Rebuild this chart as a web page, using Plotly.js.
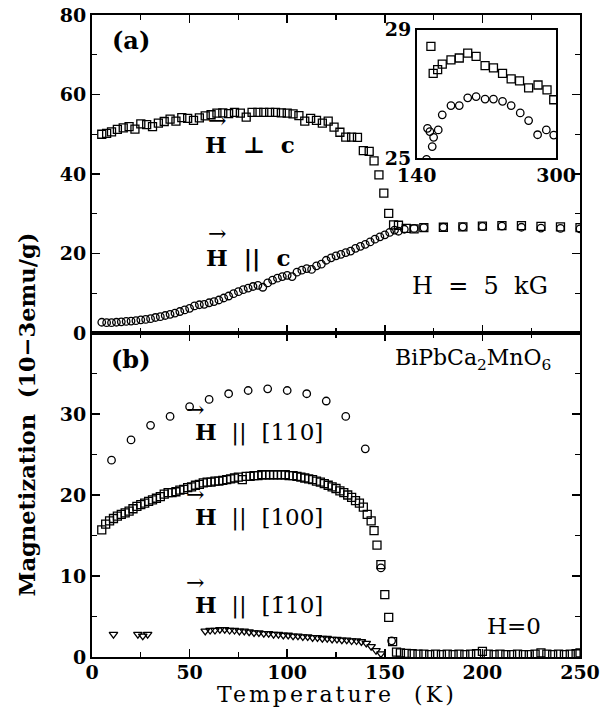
<!DOCTYPE html>
<html>
<head>
<meta charset="utf-8">
<script src="https://cdn.plot.ly/plotly-3.0.1.min.js"></script>
<style>
  html, body { margin: 0; padding: 0; background: #fff; }
  #chart { width: 607px; height: 709px; }
  g.annotation[data-index="15"] text { letter-spacing: 3px; }
</style>
</head>
<body>
<div id="chart"></div>
<script>
// ---------- Panel (a): H = 5 kG ----------
const perpT = [5,7.5,10,13,16,19,22,25,28,31,34,37,40,43,46,49,52,55,58,61,64,67,70,73,76,79,82,85,88,91,94,97,100,103,106,109,112,115,118,121,124,127,130,133,136,139,142,144.5,147,149.5,152,154.5,157,161,165,170,180,190,200,210,220,230,240,250];
const perpM = [50.0,50.2,50.6,51.2,51.6,51.9,51.3,52.6,52.4,51.9,52.8,53.2,53.8,53.3,54.2,54.0,53.5,54.1,54.6,54.9,55.3,55.4,55.2,55.5,55.3,54.3,55.5,55.5,55.5,55.5,55.5,55.4,55.3,55.1,54.7,53.3,54.0,53.5,52.8,53.3,51.8,50.5,49.3,49.3,49.2,45.9,45.7,43.3,39.8,35.2,30.1,27.2,27.1,26.3,26.2,26.5,26.6,26.7,26.9,27.0,27.0,26.8,26.7,26.5];

const parT = [5,7.5,10,12.5,15,17.5,20,22.5,25,27.5,30,32.5,35,37.5,40,42.5,45,47.5,50,52.5,55,57.5,60,62.5,65,67.5,70,72.5,75,77.5,80,82.5,85,87.5,90,92.5,95,97.5,100,102.5,105,107.5,110,112.5,115,117.5,120,122.5,125,127.5,130,132.5,135,137.5,140,142.5,145,147.5,150,152.5,155,157,160,165,170,180,190,200,210,220,230,240,250];
const parM = [2.7,2.6,2.6,2.7,2.8,2.9,3.0,3.1,3.3,3.4,3.6,3.9,4.1,4.4,4.7,5.0,5.4,5.8,6.2,6.8,7.1,7.2,7.6,7.9,8.3,8.8,9.3,9.9,10.4,10.9,11.3,11.7,12.0,11.5,12.6,13.3,13.8,14.2,14.5,14.2,15.3,15.8,16.2,16.0,16.9,17.3,18.3,18.9,19.4,19.8,20.2,20.6,21.3,21.8,22.3,22.9,23.6,24.2,24.7,25.3,25.9,25.6,26.1,26.3,26.5,26.6,26.7,26.8,26.9,26.6,26.4,26.3,26.2];

// ---------- Inset (140-300 K) ----------
const inSqT = [156.5,159.1,164.2,169.5,179.5,189,198.7,208.3,218.6,228.2,238.6,248.5,258.1,268.5,279.3,289.6,297.3];
const inSqM = [28.48,27.64,27.76,27.93,28.06,28.12,28.27,28.17,27.88,27.81,27.64,27.47,27.41,27.19,27.28,27.13,26.82];
const inCiT = [151.5,152.6,155.3,158,159.6,164.9,169.5,179.5,189,198.7,208.3,218.6,228.2,238.6,248.5,258.9,268.5,278.8,288.8,297.3];
const inCiM = [24.96,25.93,25.83,25.36,25.65,25.88,26.35,26.64,26.64,26.88,26.92,26.84,26.84,26.77,26.64,26.41,26.17,25.73,25.88,25.72];

// ---------- Panel (b): H = 0 ----------
const b110T = [10,20,30,40,50,60,70,80,90,100,110,120,130,140,148,153.5];
const b110M = [24.3,26.8,28.6,29.7,30.9,31.8,32.5,32.9,33.1,32.9,32.5,31.6,29.7,25.7,11.0,2.0];

const b100T = [5,7,9,11,13,15,17,19,21,23,25,27,29,31,33,35,37,39,41,43,45,47,49,51,53,55,57,59,61,63,65,67,69,71,73,75,77,79,81,83,85,87,89,91,93,95,97,99,101,103,105,107,109,111,113,115,117,119,121,123,125,127,129,131,133,135,137,139,141,143,144.5,146,148,150,152,154,156,158,161,164,167,170,173,176,179,182,185,188,191,194,197,200,203,206,209,212,215,218,221,224,227,230,233,236,239,242,245,248,250];
const b100M = [15.7,16.4,16.8,17.1,17.4,17.6,17.8,18.0,18.3,18.6,18.8,19.0,19.2,19.4,19.6,19.8,20.1,20.3,20.3,20.4,20.6,20.7,20.9,21.0,21.2,21.3,21.5,21.6,21.6,21.7,21.7,21.8,21.9,22.0,22.1,22.2,21.9,22.3,22.3,22.4,22.4,22.5,22.5,22.5,22.5,22.5,22.5,22.5,22.4,22.4,22.3,22.2,22.1,22.0,21.9,21.7,21.6,21.4,21.2,21.0,20.8,20.5,20.3,20.0,19.7,19.3,19.0,18.5,17.6,16.8,15.6,13.8,11.4,7.7,4.9,1.9,0.6,0.5,0.45,0.4,0.35,0.35,0.3,0.35,0.3,0.35,0.3,0.35,0.3,0.35,0.4,0.7,0.35,0.3,0.35,0.3,0.3,0.35,0.3,0.3,0.35,0.5,0.35,0.3,0.35,0.3,0.35,0.4,0.5];

const bm110T = [11,23.5,26,28.5,58,60.5,63,65.5,68,70.5,73,75.5,78,80.5,83,85.5,88,90.5,93,95.5,98,100.5,103,105.5,108,110.5,113,115.5,118,120.5,123,125.5,128,130.5,133,135.5,138,140.5,143,145.5,148];
const bm110M = [2.8,2.8,2.6,2.8,3.2,3.3,3.3,3.4,3.4,3.3,3.3,3.2,3.2,3.1,3.0,3.0,2.9,2.9,2.8,2.8,2.7,2.7,2.6,2.6,2.5,2.5,2.4,2.4,2.3,2.3,2.2,2.2,2.1,2.1,2.0,2.0,1.9,1.7,1.3,0.8,0.4];

const xTickVals = [0,50,100,150,200,250];
const xTickText = ['0','50','100','150','200','250'];
const yaTickVals = [0,20,40,60,80];
const ybTickVals = [0,10,20,30];

const SERIF = 'DejaVu Serif, Liberation Serif, serif';
const mk = (sym, size) => ({symbol: sym, size: size, color: '#000', line: {color: '#000', width: 1.3}});

const traces = [
  {x: perpT, y: perpM, xaxis: 'x2', yaxis: 'y2', mode: 'markers', marker: mk('square-open', 8), name: 'H perp c'},
  {x: parT, y: parM, xaxis: 'x2', yaxis: 'y2', mode: 'markers', marker: mk('circle-open', 7.5), name: 'H par c'},
  {x: inSqT, y: inSqM, xaxis: 'x3', yaxis: 'y3', mode: 'markers', marker: mk('square-open', 8), name: 'inset sq'},
  {x: inCiT, y: inCiM, xaxis: 'x3', yaxis: 'y3', mode: 'markers', marker: mk('circle-open', 7.5), name: 'inset ci'},
  {x: b110T, y: b110M, xaxis: 'x', yaxis: 'y', mode: 'markers', marker: mk('circle-open', 7.5), name: '[110]'},
  {x: b100T, y: b100M, xaxis: 'x', yaxis: 'y', mode: 'markers', marker: mk('square-open', 8), name: '[100]'},
  {x: bm110T, y: bm110M, xaxis: 'x', yaxis: 'y', mode: 'markers', marker: mk('triangle-down-open', 7.5), name: '[-110]'}
];

const tickFont = {family: SERIF, size: 19, color: '#000', weight: 'bold'};
const axBase = {
  showline: true, linecolor: '#000', linewidth: 2, mirror: 'allticks',
  ticks: 'inside', ticklen: 8, tickwidth: 1.5, tickcolor: '#000',
  showgrid: false, zeroline: false, tickfont: tickFont, fixedrange: true
};
const SPLIT = 0.5047;
const A = (o) => Object.assign({showarrow: false, xanchor: 'center', yanchor: 'middle'}, o);

const layout = {
  width: 607, height: 709,
  margin: {l: 92, r: 27, t: 15, b: 52},
  paper_bgcolor: '#fff', plot_bgcolor: '#fff',
  showlegend: false,
  xaxis: Object.assign({}, axBase, {domain: [0, 1], anchor: 'y', range: [0, 250], tickmode: 'array', tickvals: xTickVals, ticktext: xTickText,
    ticklabelstandoff: -3,
    minor: {dtick: 25, tick0: 0, ticks: 'inside', ticklen: 5, tickwidth: 1.2, tickcolor: '#000', showgrid: false}}),
  yaxis: Object.assign({}, axBase, {domain: [0, SPLIT], anchor: 'x', range: [0, 40], tickmode: 'array', tickvals: ybTickVals,
    minor: {dtick: 5, tick0: 0, ticks: 'inside', ticklen: 5, tickwidth: 1.2, tickcolor: '#000', showgrid: false}}),
  xaxis2: Object.assign({}, axBase, {domain: [0, 1], anchor: 'y2', range: [0, 250], tickmode: 'array', tickvals: xTickVals, showticklabels: false,
    minor: {dtick: 25, tick0: 0, ticks: 'inside', ticklen: 5, tickwidth: 1.2, tickcolor: '#000', showgrid: false}}),
  yaxis2: Object.assign({}, axBase, {domain: [SPLIT, 1], anchor: 'x2', range: [0, 80], tickmode: 'array', tickvals: yaTickVals,
    minor: {dtick: 10, tick0: 0, ticks: 'inside', ticklen: 5, tickwidth: 1.2, tickcolor: '#000', showgrid: false}}),
  xaxis3: {domain: [0.665, 0.951], anchor: 'y3', range: [140, 300], showline: true, mirror: true, linecolor: '#000', linewidth: 1.5,
    ticks: '', tickmode: 'array', tickvals: [140, 300], tickfont: tickFont, showgrid: false, zeroline: false, fixedrange: true},
  yaxis3: {domain: [0.777, 0.977], anchor: 'x3', range: [25, 29], showline: true, mirror: true, linecolor: '#000', linewidth: 1.5,
    ticks: '', tickmode: 'array', tickvals: [25, 29], tickfont: tickFont, showgrid: false, zeroline: false, fixedrange: true},
  annotations: [
    A({xref: 'x2', yref: 'y2', x: 20, y: 73.7, text: '<b>(a)</b>', font: {family: SERIF, size: 24, color: '#000'}}),
    A({xref: 'x2', yref: 'y2', x: 81, y: 47.5, text: '<b>H  ⊥  c</b>', font: {family: SERIF, size: 23, color: '#000'}}),
    A({xref: 'x2', yref: 'y2', x: 64, y: 53.5, text: '→', font: {family: SERIF, size: 22, color: '#000'}}),
    A({xref: 'x2', yref: 'y2', x: 80, y: 18.9, text: '<b>H  ||  c</b>', font: {family: SERIF, size: 23, color: '#000'}}),
    A({xref: 'x2', yref: 'y2', x: 64, y: 25.0, text: '→', font: {family: SERIF, size: 22, color: '#000'}}),
    A({xref: 'x2', yref: 'y2', x: 199, y: 11.8, text: 'H  =  5  kG', font: {family: SERIF, size: 24, color: '#000'}}),
    A({xref: 'x', yref: 'y', x: 20, y: 36.7, text: '<b>(b)</b>', font: {family: SERIF, size: 24, color: '#000'}}),
    A({xref: 'x', yref: 'y', x: 236, y: 36.7, xanchor: 'right', text: 'BiPbCa<sub>2</sub>MnO<sub>6</sub>', font: {family: SERIF, size: 22, color: '#000'}}),
    A({xref: 'x', yref: 'y', x: 85.5, y: 27.8, text: '<b>H</b>  ||  [110]', font: {family: SERIF, size: 23, color: '#000'}}),
    A({xref: 'x', yref: 'y', x: 53, y: 30.6, text: '→', font: {family: SERIF, size: 22, color: '#000'}}),
    A({xref: 'x', yref: 'y', x: 85.5, y: 17.3, text: '<b>H</b>  ||  [100]', font: {family: SERIF, size: 23, color: '#000'}}),
    A({xref: 'x', yref: 'y', x: 53, y: 20.1, text: '→', font: {family: SERIF, size: 22, color: '#000'}}),
    A({xref: 'x', yref: 'y', x: 85.5, y: 6.4, text: '<b>H</b>  ||  [1\u030410]', font: {family: SERIF, size: 23, color: '#000'}}),
    A({xref: 'x', yref: 'y', x: 53, y: 9.2, text: '→', font: {family: SERIF, size: 22, color: '#000'}}),
    A({xref: 'x', yref: 'y', x: 216, y: 3.8, text: 'H=0', font: {family: SERIF, size: 23, color: '#000'}}),
    A({xref: 'paper', yref: 'paper', x: 0.502, y: -0.0585, text: 'Temperature  (K)', font: {family: SERIF, size: 22, color: '#000'}}),
    A({xref: 'paper', yref: 'paper', x: -0.133, y: 0.378, textangle: -90, text: '<b>Magnetization  (10−3emu/g)</b>', font: {family: SERIF, size: 22.5, color: '#000'}})
  ]
};

Plotly.newPlot('chart', traces, layout, {displayModeBar: false, staticPlot: true});
</script>
</body>
</html>
